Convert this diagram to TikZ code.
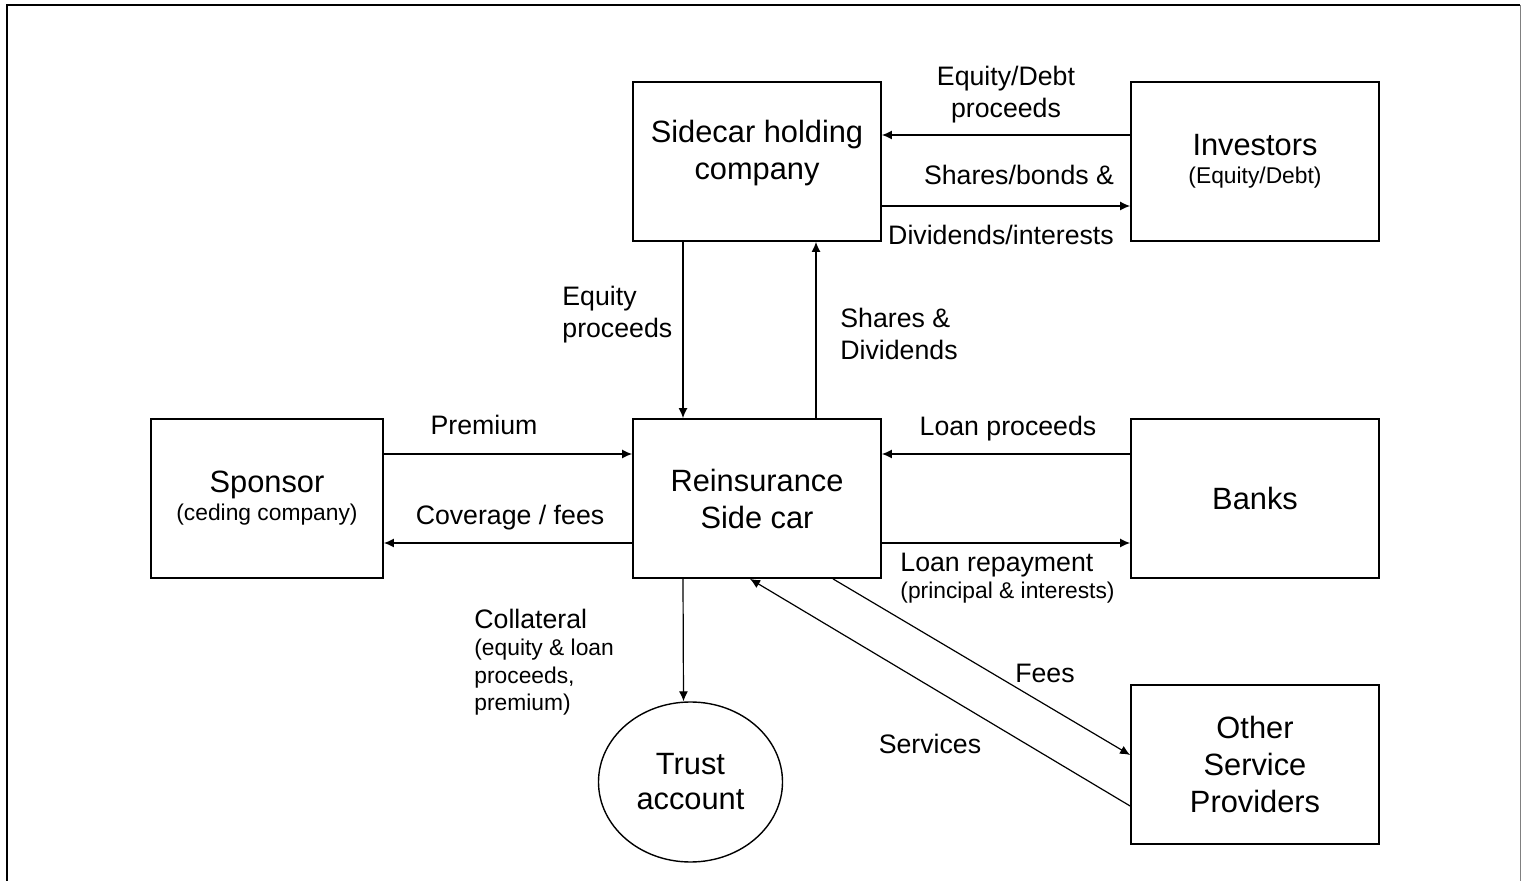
\documentclass[tikz,border=0pt]{standalone}
\usepackage{fontspec}
\setmainfont{Liberation Sans}
\usetikzlibrary{arrows.meta,shapes.geometric}

\newcommand\boxfont{\fontsize{15.4}{18.5}\selectfont}
\newcommand\labfont{\fontsize{13.35}{16}\selectfont}
\newcommand\notefont{\fontsize{11.4}{13.7}\selectfont}

\begin{document}
\begin{tikzpicture}[x=0.5pt,y=-0.5pt,
    party/.style={draw,line width=0.9pt,minimum width=124pt,minimum height=79.5pt,inner sep=0pt,align=center,font=\boxfont},
    vault/.style={ellipse,draw,line width=0.7pt,minimum width=92pt,minimum height=80pt,inner sep=0pt,align=center,font=\boxfont},
    flow/.style={draw,line width=0.6pt,-{Latex[length=5pt,width=4.5pt]}},
    lab/.style={inner sep=0pt,font=\labfont},
    labl/.style={inner sep=0pt,font=\labfont,anchor=west,align=left}]
	\useasboundingbox (0,0) rectangle (1527,881);
	\draw[line width=1pt] (7,900) -- (7,5) -- (1520,5);
	\draw[gray,line width=0.5pt] (1520,5) -- (1520,900);

	\node (hold)[party] at (757,161.5) {};
	\node (holdtxt)[inner sep=0pt,align=center,font=\boxfont] at ([yshift=4pt]hold.center) {Sidecar holding\\company};
	\node (inv)[party] at (1255,161.5) {Investors\\[-4.5pt]{\notefont (Equity/Debt)}};
	\node (spon)[party,minimum width=116pt] at (267,498.5) {Sponsor\\[-4.5pt]{\notefont (ceding company)}};
	\node (reins)[party] at (757,498.5) {Reinsurance\\Side car};
	\node (bank)[party] at (1255,498.5) {Banks};
	\node (osp)[party] at (1255,764.5) {Other\\Service\\Providers};
	\node (trust)[vault] at (690.5,782) {Trust\\[-1pt]account};

	\draw[flow] ([yshift=13.25pt]inv.west) -- ([yshift=13.25pt]hold.east);
	\draw[flow] ([yshift=-22.25pt]hold.east) -- ([yshift=-22.25pt]inv.west);
	\draw[flow] ([xshift=-37pt]hold.south) -- ([xshift=-37pt]reins.north);
	\draw[flow] ([xshift=29.5pt]reins.north) -- ([xshift=29.5pt]hold.south);
	\draw[flow] ([yshift=22.25pt]spon.east) -- ([yshift=22.25pt]reins.west);
	\draw[flow] ([yshift=-22.25pt]reins.west) -- ([yshift=-22.25pt]spon.east);
	\draw[flow] ([yshift=22.25pt]bank.west) -- ([yshift=22.25pt]reins.east);
	\draw[flow] ([yshift=-22.25pt]reins.east) -- ([yshift=-22.25pt]bank.west);
	\draw[flow] ([xshift=-37pt]reins.south) -- ([xshift=-3.5pt]trust.north);
	\draw[flow] ([xshift=38pt]reins.south) -- ([yshift=4.75pt]osp.west);
	\draw[flow] ([yshift=-20.75pt]osp.west) -- ([xshift=-3.5pt]reins.south);

	\node (eqdebt)[lab,align=center] at (1006,95) {Equity/Debt\\proceeds};
	\node (shbond)[lab] at (1019,175) {Shares/bonds \&};
	\node (divint)[lab] at (1001,235) {Dividends/interests};
	\node (eqproc)[labl] at (562,315) {Equity\\proceeds};
	\node (shdiv)[labl] at (840,334) {Shares \&\\Dividends};
	\node (prem)[lab] at (484,425) {Premium};
	\node (cover)[lab] at (510,518) {Coverage / fees};
	\node (loanin)[lab] at (1008,429) {Loan proceeds};
	\node (loanout)[labl,font=\notefont] at (900,578) {{\labfont Loan repayment}\\(principal \& interests)};
	\node (collat)[labl,font=\notefont] at (474,662) {{\labfont Collateral}\\(equity \& loan\\proceeds,\\premium)};
	\node (fees)[lab] at (1045,673) {Fees};
	\node (serv)[lab] at (930,744) {Services};
\end{tikzpicture}
\end{document}
